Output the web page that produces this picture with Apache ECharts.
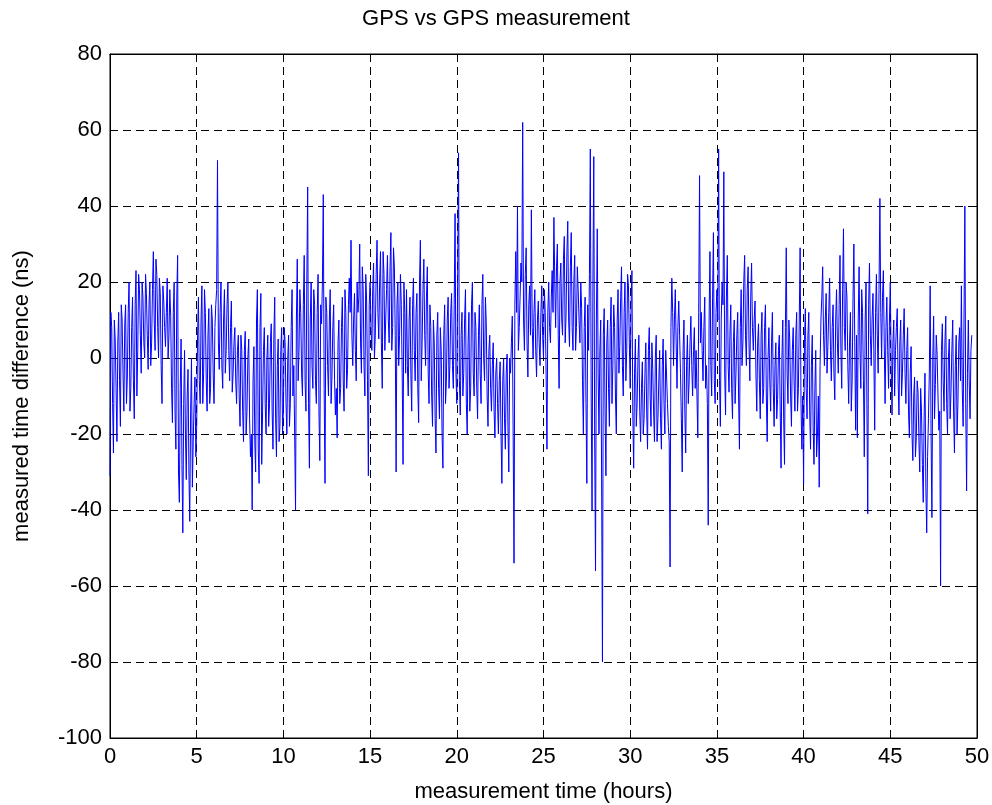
<!DOCTYPE html>
<html>
<head>
<meta charset="utf-8">
<script src="https://cdn.jsdelivr.net/npm/echarts@6/dist/echarts.min.js"></script>
<style>
html,body{margin:0;padding:0;background:#ffffff;}
#chart{width:992px;height:805px;}
</style>
</head>
<body>
<div id="chart"></div>
<script>
const chartTitle = 'GPS vs GPS measurement';
const xAxisLabel = 'measurement time (hours)';
const yAxisLabel = 'measured time difference (ns)';
const xTickValues = [0, 5, 10, 15, 20, 25, 30, 35, 40, 45, 50];
const yTickValues = [-100, -80, -60, -40, -20, 0, 20, 40, 60, 80];
const sampleStartHours = 0;
const sampleStepHours = 0.1;
// readings at whole sample steps (0.0, 0.1, 0.2 ... h)
const timeDifferenceNs = [
  -31, 8, -25, 5, -22, 12, -18, 10, -14, 14,
  -5, 20, -8, 16, -16, 23, 2, 18, -4, 16,
  0, 17, -3, 20, 4, 28, 2, 22, 0, 17,
  -12, 15, 3, 21, 6, 11, -17, 20, -24, 27,
  -38, 5, -46, 2, -32, -3, -43, 0, -22, -5,
  -18, 16, -12, 19, -4,
  12, -14, 13, -8, 10,
  -12, 14, 52, -3, 20, -8, 18, 2, 20, -6,
  15, -4, 8, -12, 6, -18, 2, -22, 7, -14,
  5, -26, -40, 3, -30, 18, -33, 17, -14, 8,
  -20, 6, -12, 9, -24, 16, -26, 5, -18, 8,
  -14, 4, -20, 6, -12, 18, -2, -40, 26, 2,
  12, -10,
  27, -14, 45, -29, 20, -8, 14, -12,
  22, -27, 9, 43, -33, 12, -10, 18, -5, 14,
  -15, -21, 10, -8, 16, -14, 12, -3, 21, 31,
  -2, 17, -6, 12, 30, -4, 18, -10, 15, -31,
  20, 2, 25, 6, 31, 5, 28, -8, 22, 10,
  27, 4, 33, 8, 24, -30, 20, 6, 14, -28,
  12,
  18, -10, 16, -14, 21, -6, 17, -17, 31,
  4, 26, -2, 24, -12, 8, -18, 4, -25, 12,
  -16, 2, -29, 14, -6, 16, -2, 17, -8, 38,
  -12, 54, -15, 12, -4, 18, -20, 12, -8, 20,
  -10, 8, -16, 14, -12, 22, -6, 9, -18, 6,
  -14, 4, -21, 0, -20,
  -1, -33, 0, -24, 1,
  -30, -4, 11, -54, 28, 40, 8, 25, 62, 2,
  29, -5, 19, 39, 0, 18, -5, 15, -2, 19,
  0, 12, -24, 20, 4, 23, 37, 8, 30, -8,
  25, 6, 32, 11, 36, 3, 33, 2, 27, 8,
  18, 4, 13, -20, 16, -33, 2, 55, -40, 53,
  -56, 34,
  -20, 10, -80, 13, -31, 10, -18, 16,
  -2, 8, -20, 18, 3, 24, -10, 20, 2, 19,
  -8, 23, -29, 5, -12, 6, -22, -1, -16, 4,
  -24, 8, -18, -3, -22, 6, -16, 2, -24, 5,
  -20, -5, -18, -55, 21, -2, 18, -8, 15, -4,
  -30, 10, -25, 6, -6, 11, -10, 8, 2, -21,
  48,
  12, -6, 16, -2, -44, 28, -10, 33, -12,
  18, 55, -18, 20, 49, -15, 27, -9, 14, -16,
  10, -4, 12, -24, 18, 4, 27, -2, 24, -6,
  25, 2, 15, -14, 9, -16, 12, -8, 14, -22,
  8, -14, 12, -18, 4, -11, 6, -29, 10, -28,
  29, -12, 5, -18, 8, -14, 12, -8, 29, -24,
  -33, 13, -16, 12, -24, 6, -28, 2, -20, -34,
  10, 24, -2, 17, 3, 21, -6, 14, -11, 18,
  -4, 27, -8, 34, 2, 16, -12, 12, -6, 30,
  -19, -21, 24, -8, 12, -26, 20, -41, 25, -2,
  17, -19, 22, -4, 42, 0, 23, -12, 16, -8,
  20, -15, 10, 2,
  13, -15, 10, -4, 13, -12,
  8, -21, 3, -27, -5, -21, -9, -30, -14, -38,
  -4, -46, -16, 19, -42, 11, -7, 1, -19, -60,
  9, -14, 11, -20, 5, -9, 10, -25, 6, -12,
  8, 19, -18, 40, -35, 10, -16, 6
];
// readings half-way between the whole steps (0.05, 0.15, 0.25 ... h)
const timeDifferenceNsHalf = [
  12, -12, 10, -8, 4, -6, 14, -4, 9, -12,
  12, -14, 8, -6, 14, -10, 22, 6, 20, 4,
  22, 6, 14, -2, 18, 10, 26, 8, 21, -2,
  19, 8, 12, 0, 18, -8, 12, -14, 16, -30,
  -8, -28, -12, -20, -10, -30, -14, -34, -12, -26,
  6, -6, 10, -12, 18,
  -6, 6, -12, 14, -4,
  8, 18, 4, 12, -2, 10, -4, 14, 2, 8,
  -9, 4, -6, 2, -10, 6, -14, 2, -20, 0,
  -16, -20, -6, -22, 10, -24, 8, -28, 2, -12,
  0, -18, 4, -14, 6, -16, -2, -22, 2, -20,
  8, -12, 0, -18, 8, -10, -20, 10, -6, 18,
  -4, 14,
  -6, 20, -12, 10, -2, 18, -6, 12,
  -14, 14, 20, -8, 16, -2, 10, -12, 8, -6,
  -8, 4, -12, 8, -6, 18, -8, 14, 12, 6,
  10, 2, 20, 16, 4, 24, -2, 22, -6, 14,
  8, 18, 0, 22, 12, 20, 4, 28, 2, 18,
  10, 24, 2, 29, 6, 14, -2, 22, -4, 20,
  -4,
  -2, 10, -4, 14, 2, 12, -8, 20, -6,
  18, 6, 16, -4, 14, -10, 10, -16, 6, -8,
  8, -20, 6, -12, 10, -8, 12, -2, 14, -4,
  20, -6, 6, -10, 10, -12, 4, -14, 14, -4,
  12, -8, 6, -4, 14, 0, 16, -10, 2, -8,
  -2, -14, -4, -12, -6,
  -20, -6, -16, -4, -18,
  0, 4, -20, 14, 12, 2, 16, 20, 10, 22,
  4, 14, 6, 8, 12, 2, 10, 4, 12, 6,
  18, -4, 12, 8, 16, 12, 20, 24, 6, 20,
  10, 26, 4, 28, 10, 24, 8, 20, 2, 24,
  10, 20, -6, 8, -12, 14, 22, -10, 20, -20,
  10, -4,
  2, -30, 6, -14, 4, -8, 8, -12,
  14, -10, 10, -4, 16, -2, 12, -6, 22, 4,
  14, -14, -4, -18, 0, -14, -8, -20, -4, -14,
  2, -10, 4, -14, 0, -22, -6, -16, -2, -12,
  2, -12, -22, 8, 12, 10, 4, 8, 6, -16,
  2, -14, -2, -12, 4, -2, 2, -8, -10, 12,
  4,
  2, 8, -8, -12, 10, -2, 16, -6, 12,
  10, -6, 10, 14, -4, 16, -2, 6, -8, 4,
  -12, 6, -10, 8, -2, 20, 6, 18, 4, 16,
  8, 10, -4, 4, -6, 6, -12, 8, -10, 0,
  -6, 4, -8, -2, -16, 2, -14, 0, -16, 8,
  -4, 10, -10, 2, -6, 6, -14, 10, -12, -10,
  4, -8, 6, -14, -2, -18, -8, -26, -10, -2,
  16, 6, 10, -4, 12, 2, 8, -4, 10, 4,
  14, 2, 18, 8, 20, -2, 4, -14, 16, 4,
  6, 10, 2, 18, -6, 10, -12, 14, 6, 10,
  2, 12, 6, 18, 12, 16, 4, 8, 2, 10,
  -2, 4, -10, 8,
  -6, 4, -10, 6, -4, 2,
  -14, -4, -20, -10, -26, -6, -22, -8, -28, -16,
  -34, -26, -4, -20, 0, -16, 6, -10, -14, 2,
  -6, 4, -12, 0, -16, 2, -14, -2, -20, 4,
  -6, -8, 10, -12, -4, -6, 2
];

const seriesData = [];
timeDifferenceNs.forEach(function (v, i) {
  const t = sampleStartHours + i * sampleStepHours;
  seriesData.push([+t.toFixed(3), v]);
  if (i < timeDifferenceNsHalf.length) {
    seriesData.push([+(t + sampleStepHours / 2).toFixed(3), timeDifferenceNsHalf[i]]);
  }
});

const fontFamily = "'Liberation Sans', Arial, Helvetica, sans-serif";
const xMin = xTickValues[0], xMax = xTickValues[xTickValues.length - 1];
const xStep = xTickValues[1] - xTickValues[0];
const yMin = yTickValues[0], yMax = yTickValues[yTickValues.length - 1];
const yStep = yTickValues[1] - yTickValues[0];

const gridLine = { show: true, lineStyle: { color: '#000000', width: 1, type: [8, 5] } };
const tickStyle = { show: true, inside: true, length: 7, lineStyle: { color: '#000000', width: 1 } };
const boxLine = { show: true, onZero: false, lineStyle: { color: '#000000', width: 1 } };

const chart = echarts.init(document.getElementById('chart'), null, { renderer: 'canvas' });
chart.setOption({
  animation: false,
  backgroundColor: '#ffffff',
  title: {
    text: chartTitle,
    left: 'center',
    top: 3,
    textStyle: { fontFamily: fontFamily, fontSize: 22, fontWeight: 'normal', color: '#000000' }
  },
  grid: {
    left: 110, right: 15, top: 54, bottom: 67,
    outerBoundsMode: 'none',
    containLabel: false,
    show: true, borderColor: '#000000', borderWidth: 1, backgroundColor: '#ffffff'
  },
  xAxis: [{
    type: 'value', min: xMin, max: xMax, interval: xStep,
    name: xAxisLabel, nameLocation: 'middle', nameGap: 43,
    nameTextStyle: { fontFamily: fontFamily, fontSize: 22, color: '#000000' },
    axisLine: boxLine,
    axisTick: tickStyle,
    axisLabel: { fontFamily: fontFamily, fontSize: 22, color: '#000000', margin: 8 },
    splitLine: gridLine
  }, {
    type: 'value', position: 'top', min: xMin, max: xMax, interval: xStep,
    axisLine: boxLine,
    axisTick: tickStyle, axisLabel: { show: false }, splitLine: { show: false }
  }],
  yAxis: [{
    type: 'value', min: yMin, max: yMax, interval: yStep,
    name: yAxisLabel, nameLocation: 'middle', nameGap: 77,
    nameTextStyle: { fontFamily: fontFamily, fontSize: 22, color: '#000000' },
    axisLine: boxLine,
    axisTick: tickStyle,
    axisLabel: { fontFamily: fontFamily, fontSize: 22, color: '#000000', margin: 8 },
    splitLine: gridLine
  }, {
    type: 'value', position: 'right', min: yMin, max: yMax, interval: yStep,
    axisLine: boxLine,
    axisTick: tickStyle, axisLabel: { show: false }, splitLine: { show: false }
  }],
  series: [{
    type: 'line',
    xAxisIndex: 0, yAxisIndex: 0,
    data: seriesData,
    showSymbol: false,
    symbol: 'none',
    lineStyle: { color: '#0000ff', width: 1 },
    itemStyle: { color: '#0000ff' },
    z: 3
  }]
});
</script>
</body>
</html>
